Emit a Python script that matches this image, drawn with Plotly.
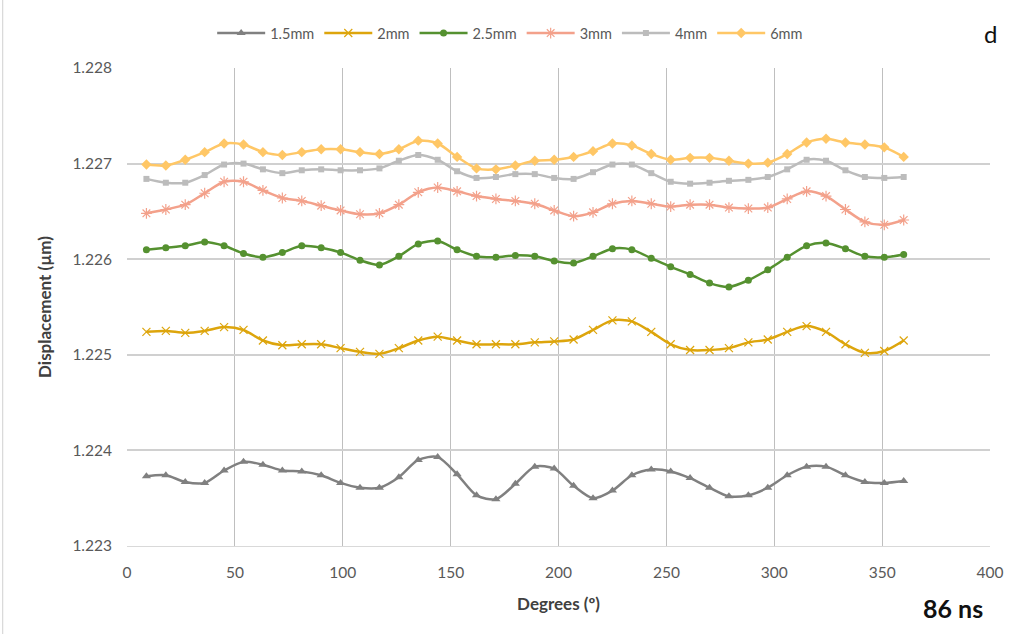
import plotly.graph_objects as go

degrees = [9 * i for i in range(1, 41)]

s15 = [1.22373, 1.22374, 1.22367, 1.22366, 1.22379, 1.22388, 1.22385, 1.22379, 1.22378, 1.22374,
       1.22366, 1.22361, 1.22361, 1.22372, 1.22390, 1.22393, 1.22375, 1.22353, 1.22349, 1.22365,
       1.22383, 1.22381, 1.22363, 1.22350, 1.22358, 1.22374, 1.22380, 1.22378, 1.22371, 1.22361,
       1.22352, 1.22353, 1.22361, 1.22374, 1.22383, 1.22383, 1.22374, 1.22367, 1.22366, 1.22368]
s2 = [1.22524, 1.22525, 1.22523, 1.22525, 1.22529, 1.22526, 1.22515, 1.22510, 1.22511, 1.22511,
      1.22507, 1.22503, 1.22501, 1.22507, 1.22515, 1.22519, 1.22515, 1.22511, 1.22511, 1.22511,
      1.22513, 1.22514, 1.22516, 1.22526, 1.22536, 1.22535, 1.22524, 1.22511, 1.22505, 1.22505,
      1.22507, 1.22513, 1.22516, 1.22524, 1.22530, 1.22524, 1.22511, 1.22502, 1.22504, 1.22515]
s25 = [1.22610, 1.22612, 1.22614, 1.22618, 1.22614, 1.22606, 1.22602, 1.22607, 1.22614, 1.22612,
       1.22607, 1.22599, 1.22594, 1.22603, 1.22616, 1.22619, 1.22610, 1.22603, 1.22602, 1.22604,
       1.22603, 1.22598, 1.22596, 1.22603, 1.22611, 1.22610, 1.22601, 1.22592, 1.22584, 1.22575,
       1.22571, 1.22578, 1.22589, 1.22602, 1.22614, 1.22617, 1.22611, 1.22603, 1.22602, 1.22605]
s3 = [1.22648, 1.22652, 1.22657, 1.22669, 1.22681, 1.22681, 1.22672, 1.22664, 1.22661, 1.22656,
      1.22651, 1.22647, 1.22648, 1.22657, 1.22670, 1.22675, 1.22671, 1.22666, 1.22663, 1.22661,
      1.22658, 1.22651, 1.22645, 1.22649, 1.22658, 1.22661, 1.22658, 1.22655, 1.22657, 1.22657,
      1.22654, 1.22653, 1.22654, 1.22663, 1.22671, 1.22666, 1.22652, 1.22639, 1.22636, 1.22641]
s4 = [1.22684, 1.22680, 1.22680, 1.22688, 1.22699, 1.22700, 1.22694, 1.22690, 1.22693, 1.22694,
      1.22693, 1.22693, 1.22695, 1.22703, 1.22709, 1.22704, 1.22692, 1.22685, 1.22686, 1.22689,
      1.22689, 1.22685, 1.22684, 1.22691, 1.22699, 1.22699, 1.22690, 1.22681, 1.22679, 1.22680,
      1.22682, 1.22683, 1.22686, 1.22694, 1.22704, 1.22703, 1.22693, 1.22686, 1.22685, 1.22686]
s6 = [1.22699, 1.22698, 1.22704, 1.22712, 1.22721, 1.22720, 1.22712, 1.22709, 1.22712, 1.22715,
      1.22715, 1.22712, 1.22710, 1.22715, 1.22724, 1.22721, 1.22707, 1.22695, 1.22694, 1.22698,
      1.22703, 1.22704, 1.22707, 1.22713, 1.22721, 1.22719, 1.22710, 1.22704, 1.22706, 1.22706,
      1.22703, 1.22700, 1.22701, 1.22710, 1.22722, 1.22726, 1.22722, 1.22720, 1.22717, 1.22707]

names = ["1.5mm", "2mm", "2.5mm", "3mm", "4mm", "6mm"]
series = [s15, s2, s25, s3, s4, s6]
colors = ["#808080", "#dda50c", "#559130", "#f3a18b", "#bcbcbc", "#ffc766"]
symbols = ["triangle-up", "x-thin", "circle", "asterisk-open", "square", "diamond"]
sizes = [8, 8, 7, 9, 6, 8]

fig = go.Figure()
for n, s, c, sym, sz in zip(names, series, colors, symbols, sizes):
    marker = dict(symbol=sym, size=sz, color=c)
    if sym in ("x-thin", "asterisk-open"):
        marker["line"] = dict(color=c, width=1.2)
    fig.add_trace(go.Scatter(
        x=degrees, y=s, name=n, mode="lines+markers",
        line=dict(color=c, width=2.5, shape="spline", smoothing=0.8),
        marker=marker,
    ))

fig.update_layout(
    width=1020, height=634,
    margin=dict(l=127, r=30, t=68, b=88),
    paper_bgcolor="white", plot_bgcolor="white",
    font=dict(family="Lato, 'Liberation Sans', sans-serif", color="#595959", size=14),
    showlegend=True,
    legend=dict(orientation="h", x=0.444, xanchor="center", y=1.073, yanchor="middle",
                font=dict(size=14.5, color="#595959"), itemwidth=48, bgcolor="rgba(0,0,0,0)"),
    annotations=[
        dict(text="d", xref="paper", yref="paper", x=1.0, y=1.073, xanchor="center", yanchor="middle",
             showarrow=False, font=dict(size=24, color="#111111")),
        dict(text="<b>86 ns</b>", xref="paper", yref="paper", x=0.994, y=-0.13, xanchor="right", yanchor="middle",
             showarrow=False, font=dict(size=25, color="#111111")),
    ],
    shapes=[dict(type="line", xref="paper", yref="paper", x0=-0.144, x1=-0.144, y0=-0.2, y1=1.15,
                 line=dict(color="#d0d0d0", width=1))],
)
fig.update_xaxes(range=[0, 400], dtick=50, showgrid=True, gridcolor="#bfbfbf", gridwidth=1,
                 showline=True, linecolor="#d9d9d9", zeroline=False, ticks="", ticklabelstandoff=12,
                 tickfont=dict(size=15.5, color="#595959"),
                 title=dict(text="<b>Degrees (º)</b>", font=dict(size=17, color="#404040"), standoff=18))
fig.update_yaxes(range=[1.223, 1.228], dtick=0.001, tickformat=".3f", showgrid=True, gridcolor="#d0d0d0",
                 gridwidth=1.5, zeroline=False, showline=False, ticks="", ticklabelstandoff=14,
                 tickfont=dict(size=15.5, color="#595959"),
                 title=dict(text="<b>Displacement (µm)</b>", font=dict(size=17, color="#404040"), standoff=16))

fig.write_html("out.html")
